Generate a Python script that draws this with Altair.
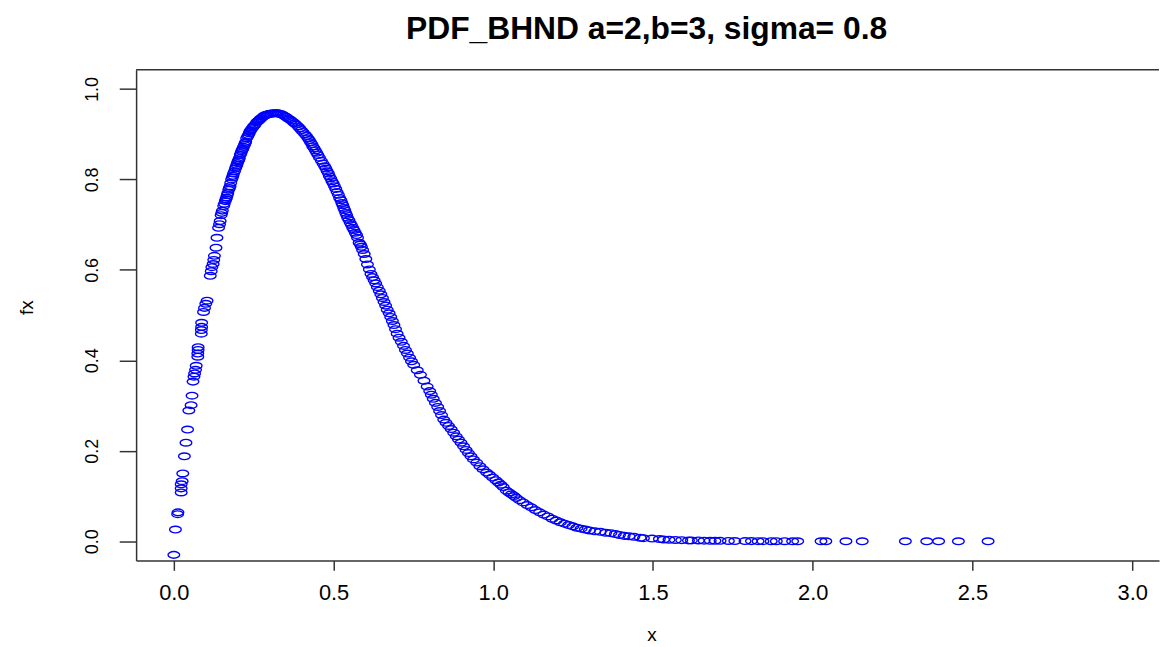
import altair as alt
import pandas as pd

# ---- data ----
x_vals = [
    0.000, 0.005, 0.012, 0.013, 0.023, 0.023, 0.023, 0.026, 0.028, 0.033,
    0.038, 0.043, 0.047, 0.054, 0.057, 0.060, 0.063, 0.065, 0.068, 0.070,
    0.075, 0.075, 0.076, 0.076, 0.086, 0.086, 0.087, 0.087, 0.093, 0.096,
    0.100, 0.104, 0.114, 0.117, 0.119, 0.123, 0.125, 0.127, 0.132, 0.135,
    0.140, 0.145, 0.148, 0.152, 0.156, 0.161, 0.165, 0.169, 0.172, 0.176,
    0.178, 0.181, 0.185, 0.190, 0.193, 0.197, 0.201, 0.205, 0.208, 0.212,
    0.216, 0.221, 0.225, 0.228, 0.233, 0.238, 0.243, 0.249, 0.254, 0.259,
    0.264, 0.270, 0.275, 0.280, 0.287, 0.295, 0.305, 0.316, 0.326, 0.337,
    0.347, 0.357, 0.368, 0.378, 0.389, 0.399, 0.410, 0.420, 0.428, 0.435,
    0.443, 0.451, 0.462, 0.472, 0.480, 0.487, 0.495, 0.503, 0.511, 0.519,
    0.526, 0.532, 0.538, 0.544, 0.552, 0.560, 0.568, 0.575, 0.580, 0.587,
    0.596, 0.606, 0.617, 0.627, 0.637, 0.648, 0.658, 0.668, 0.679, 0.689,
    0.699, 0.712, 0.725, 0.738, 0.751, 0.762, 0.772, 0.783, 0.793, 0.806,
    0.819, 0.832, 0.845, 0.860, 0.876, 0.891, 0.907, 0.922, 0.938, 0.958,
    0.979, 0.998, 1.016, 1.031, 1.041, 1.057, 1.072, 1.093, 1.119, 1.145,
    1.171, 1.197, 1.223, 1.249, 1.275, 1.301, 1.335, 1.368, 1.395, 1.425,
    1.440, 1.460, 1.470, 1.497, 1.520, 1.533, 1.550, 1.570, 1.590, 1.611,
    1.620, 1.642, 1.660, 1.679, 1.694, 1.710, 1.736, 1.756, 1.788, 1.808,
    1.829, 1.844, 1.870, 1.886, 1.912, 1.937, 1.953, 2.026, 2.041, 2.104,
    2.155, 2.290, 2.357, 2.394, 2.456, 2.549,
    # further readings along the dense band
    0.143, 0.150, 0.158, 0.163, 0.167, 0.174, 0.183, 0.187, 0.195, 0.199,
    0.203, 0.210, 0.214, 0.218, 0.223, 0.231, 0.236, 0.240, 0.246, 0.252,
    0.262, 0.267, 0.272, 0.283, 0.291, 0.300, 0.310, 0.321, 0.331, 0.342,
    0.352, 0.362, 0.373, 0.383, 0.394, 0.404, 0.415, 0.424, 0.432, 0.439,
    0.447, 0.456, 0.467, 0.476, 0.484, 0.491, 0.499, 0.507, 0.515, 0.523,
    0.529, 0.535, 0.541, 0.548, 0.556, 0.564, 0.572, 0.584, 0.591, 0.601,
    0.612, 0.622, 0.632, 0.643, 0.653, 0.663, 0.674, 0.684, 0.694, 0.705,
    0.719, 0.731, 0.744, 0.801, 0.812, 0.826, 0.838, 0.852, 0.868, 0.884,
    0.899, 0.915, 0.930, 0.948, 0.968, 0.988, 1.008, 1.024, 1.049, 1.065,
    1.082, 1.106, 1.132, 1.158, 1.184, 1.210, 1.236, 1.262, 1.288, 1.318,
    1.352, 1.382, 1.410,
]
fx_vals = [
    -0.030, 0.026, 0.060, 0.064, 0.108, 0.117, 0.126, 0.133, 0.150, 0.188,
    0.218, 0.247, 0.289, 0.301, 0.322, 0.353, 0.364, 0.371, 0.379, 0.388,
    0.408, 0.415, 0.423, 0.429, 0.459, 0.467, 0.474, 0.483, 0.507, 0.516,
    0.525, 0.532, 0.587, 0.597, 0.606, 0.613, 0.622, 0.631, 0.649, 0.671,
    0.693, 0.708, 0.721, 0.731, 0.741, 0.752, 0.760, 0.770, 0.777, 0.785,
    0.792, 0.800, 0.808, 0.818, 0.824, 0.832, 0.840, 0.847, 0.854, 0.862,
    0.868, 0.876, 0.883, 0.891, 0.898, 0.906, 0.911, 0.917, 0.921, 0.926,
    0.929, 0.933, 0.936, 0.939, 0.942, 0.944, 0.945, 0.946, 0.946, 0.944,
    0.940, 0.935, 0.930, 0.924, 0.917, 0.909, 0.900, 0.891, 0.882, 0.873,
    0.864, 0.854, 0.841, 0.829, 0.818, 0.807, 0.796, 0.785, 0.772, 0.759,
    0.748, 0.737, 0.726, 0.715, 0.704, 0.693, 0.682, 0.671, 0.660, 0.651,
    0.635, 0.612, 0.591, 0.577, 0.562, 0.546, 0.529, 0.512, 0.496, 0.478,
    0.459, 0.441, 0.423, 0.406, 0.390, 0.378, 0.368, 0.355, 0.342, 0.324,
    0.306, 0.288, 0.269, 0.255, 0.240, 0.225, 0.210, 0.195, 0.181, 0.166,
    0.152, 0.141, 0.130, 0.120, 0.112, 0.104, 0.096, 0.086, 0.075, 0.064,
    0.055, 0.046, 0.039, 0.033, 0.028, 0.024, 0.021, 0.018, 0.014, 0.011,
    0.010, 0.008, 0.007, 0.006, 0.005, 0.004, 0.0035, 0.003, 0.0025, 0.002,
    0.002, 0.0018, 0.0014, 0.001, 0.001, 0.001, 0.0008, 0.0006, 0.0005, 0.0004,
    0.0003, 0.0003, 0.0002, 0.0002, 0.0002, 0.0001, 0.0001, 0.0001, 0.0, 0.0,
    0.0, 0.0, 0.0, 0.0, 0.0, 0.0,
    # further readings along the dense band
    0.701, 0.726, 0.746, 0.756, 0.765, 0.781, 0.804, 0.813, 0.828, 0.836,
    0.843, 0.858, 0.865, 0.872, 0.880, 0.895, 0.902, 0.908, 0.914, 0.919,
    0.928, 0.931, 0.935, 0.941, 0.943, 0.945, 0.946, 0.946, 0.945, 0.942,
    0.938, 0.933, 0.927, 0.921, 0.913, 0.905, 0.896, 0.887, 0.878, 0.869,
    0.859, 0.848, 0.835, 0.824, 0.813, 0.802, 0.791, 0.779, 0.766, 0.754,
    0.743, 0.732, 0.721, 0.710, 0.699, 0.688, 0.677, 0.656, 0.644, 0.624,
    0.601, 0.584, 0.570, 0.554, 0.538, 0.521, 0.504, 0.487, 0.469, 0.450,
    0.432, 0.415, 0.398, 0.332, 0.315, 0.297, 0.279, 0.262, 0.248, 0.232,
    0.218, 0.202, 0.188, 0.174, 0.159, 0.147, 0.135, 0.125, 0.108, 0.100,
    0.091, 0.080, 0.069, 0.059, 0.050, 0.042, 0.036, 0.030, 0.026, 0.022,
    0.019, 0.016, 0.012,
]
x_ticks = [0.0, 0.5, 1.0, 1.5, 2.0, 2.5, 3.0]
y_ticks = [0.0, 0.2, 0.4, 0.6, 0.8, 1.0]
title_text = "PDF_BHND a=2,b=3, sigma= 0.8"
x_title = "x"
y_title = "fx"

# ---- layout ----
W, H = 1030, 494
X_DOMAIN = [-0.1181, 3.084]
Y_DOMAIN = [-0.0422, 1.0423]
FONT = "Liberation Sans"
LINE = "#333333"

df = pd.DataFrame({"x": x_vals, "fx": fx_vals})

ellipse = ("M 1 0 C 1 0.3148 0.5523 0.57 0 0.57 C -0.5523 0.57 -1 0.3148 -1 0 "
           "C -1 -0.3148 -0.5523 -0.57 0 -0.57 C 0.5523 -0.57 1 -0.3148 1 0 Z")

points = alt.Chart(df).mark_point(
    shape=ellipse, size=137, filled=False, color="#0000FF",
    strokeWidth=1.4, opacity=1,
).encode(
    x=alt.X("x:Q",
            scale=alt.Scale(domain=X_DOMAIN, nice=False, zero=False),
            axis=alt.Axis(values=x_ticks, format=".1f", grid=False,
                          tickSize=10, tickColor=LINE, tickWidth=1.5,
                          domainColor=LINE, domainWidth=1.5,
                          labelFont=FONT, labelFontSize=22, labelColor="black",
                          labelBaseline="alphabetic", labelPadding=29,
                          labelFlush=False, labelOverlap=False,
                          title=x_title, titleFont=FONT, titleFontSize=19,
                          titleFontWeight="normal", titleColor="black",
                          titleBaseline="alphabetic", titleAlign="center",
                          titleX=519, titleY=81)),
    y=alt.Y("fx:Q",
            scale=alt.Scale(domain=Y_DOMAIN, nice=False, zero=False),
            axis=alt.Axis(values=y_ticks, format=".1f", grid=False,
                          tickSize=17, tickColor=LINE, tickWidth=1.5,
                          domainColor=LINE, domainWidth=1.5,
                          labelFont=FONT, labelFontSize=18, labelColor="black",
                          labelAngle=270, labelAlign="center",
                          labelBaseline="alphabetic", labelPadding=21.7,
                          labelFlush=False, labelOverlap=False,
                          title=y_title, titleFont=FONT, titleFontSize=19,
                          titleFontWeight="normal", titleColor="black",
                          titleAngle=270, titleAlign="center",
                          titleBaseline="alphabetic",
                          titleX=-104, titleY=239)),
)

top_border = alt.Chart(alt.Data(values=[{"k": 1}])).mark_rule(
    color=LINE, strokeWidth=1.5
).encode(x=alt.value(0), x2=alt.value(W), y=alt.value(0))

title_mark = alt.Chart(alt.Data(values=[{"t": title_text}])).mark_text(
    font=FONT, fontSize=32, fontWeight="bold", color="black",
    align="center", baseline="alphabetic",
).encode(text="t:N", x=alt.value(514), y=alt.value(-31.3))

chart = alt.layer(points, top_border, title_mark).properties(
    width=W, height=H,
    autosize=alt.AutoSizeParams(type="none"),
    padding={"left": 129, "top": 60, "right": 1, "bottom": 88},
).configure_view(stroke=None)

chart.save("out.html", embed_options={"renderer": "svg", "actions": False})
